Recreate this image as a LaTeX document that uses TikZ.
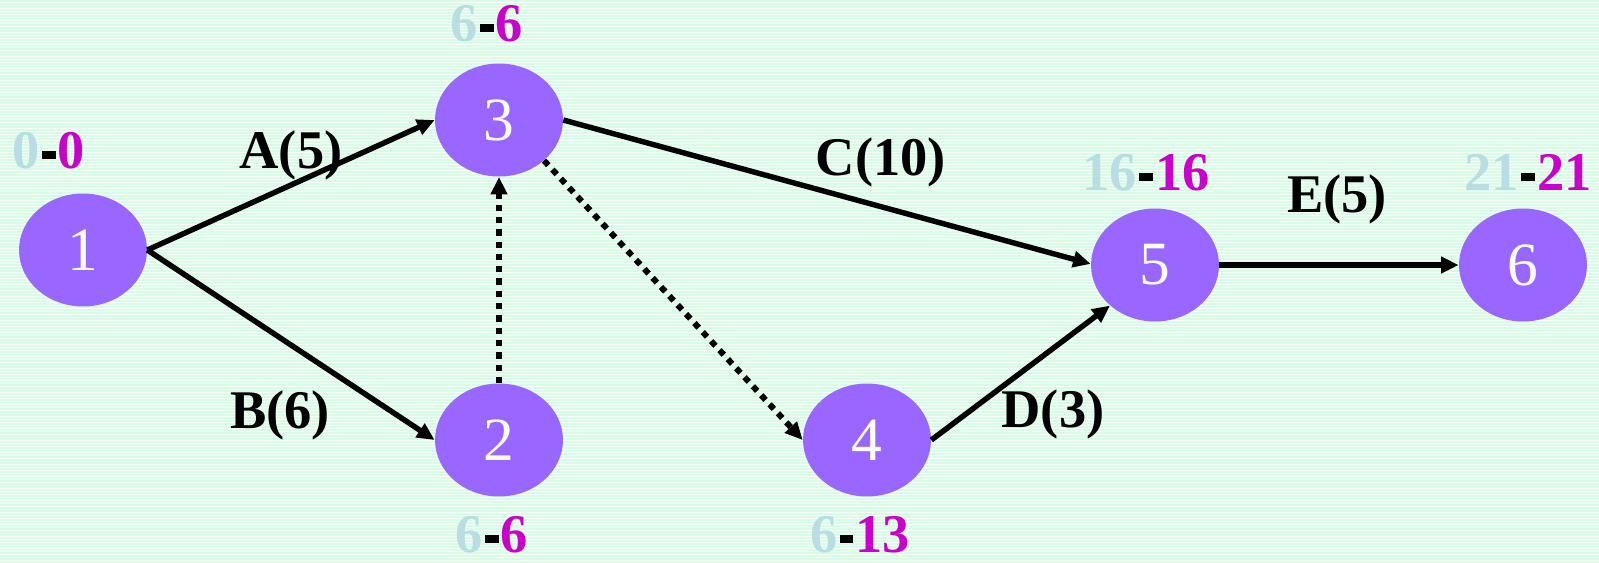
\documentclass[tikz,border=0pt]{standalone}
\usepackage{fontspec}
\setmainfont{Liberation Serif}
\usetikzlibrary{shapes.geometric,arrows.meta}
\definecolor{nodefill}{HTML}{9966FF}
\definecolor{early}{HTML}{B8DDE3}
\definecolor{late}{HTML}{CC00CC}
\definecolor{bgA}{HTML}{F3FFF7}
\definecolor{bgB}{HTML}{DAFBE5}
\newcommand\evtime[2]{\textcolor{early}{#1}\hspace{0.045em}\rule[0.16em]{0.24em}{0.16em}\hspace{0.045em}\textcolor{late}{#2}}
\begin{document}
\begin{tikzpicture}[x=0.02cm,y=-0.02cm,
 event/.style={ellipse,fill=nodefill,minimum width=2.56cm,minimum height=2.26cm,inner sep=0pt,text=white,font=\fontsize{35}{35}\selectfont},
 lbl/.style={font=\fontsize{31}{31}\selectfont\bfseries,anchor=base,inner sep=0pt},
 act/.style={line width=3.1pt,-{Triangle[length=10pt,width=9pt]}},
 dummy/.style={act,line width=3.4pt,dash pattern=on 3.6pt off 3.4pt}]
\useasboundingbox (0,0) rectangle (1599,562);
\fill[bgA] (0,0) rectangle (1599,562);
\foreach \i in {0,...,187} \fill[bgB] (0,3*\i) rectangle (1599,3*\i+1.5);
\node[event] (n1) at (83,250) {1};
\node[event] (n3) at (499,120) {3};
\node[event] (n2) at (499,440) {2};
\node[event] (n4) at (867,440) {4};
\node[event] (n5) at (1155,265) {5};
\node[event] (n6) at (1523,265) {6};
\draw[act] (n1.east) -- (n3.west);
\draw[act] (n1.east) -- (n2.west);
\draw[dummy] (n2.north) -- (n3.south);
\draw[dummy] (n3.-42) -- (n4.west);
\draw[act] (n3.east) -- (n5.179);
\draw[act] (n4.east) -- (n5.222);
\draw[act] (n5.east) -- (n6.west);
\node[lbl] (la) at (291,168) {A(5)};
\node[lbl] (lb) at (280,428) {B(6)};
\node[lbl] (lc) at (881,175) {C(10)};
\node[lbl] (ld) at (1053,427) {D(3)};
\node[lbl] (le) at (1337,212) {E(5)};
\node[lbl] (t1) at (49,168) {\evtime{0}{0}};
\node[lbl] (t3) at (487,41) {\evtime{6}{6}};
\node[lbl] (t2) at (492,552) {\evtime{6}{6}};
\node[lbl] (t4) at (860,552) {\evtime{6}{13}};
\node[lbl] (t5) at (1146,190) {\evtime{16}{16}};
\node[lbl] (t6) at (1528,190) {\evtime{21}{21}};
\end{tikzpicture}
\end{document}
